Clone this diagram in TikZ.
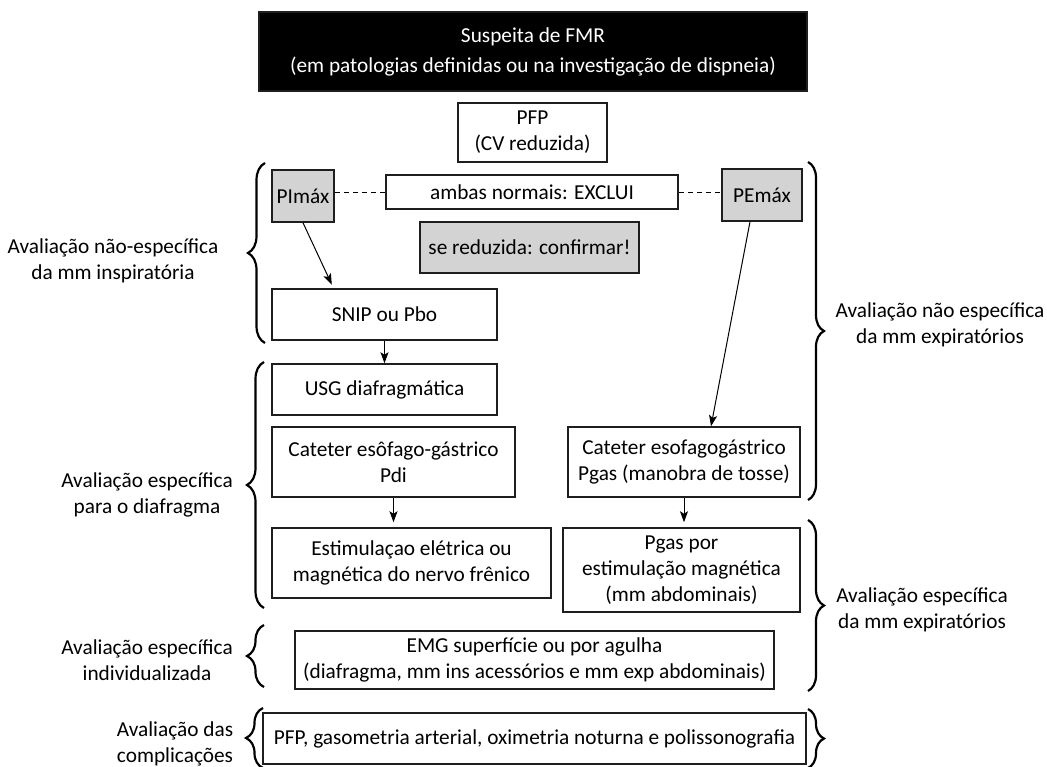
\documentclass[tikz,border=0pt]{standalone}
\usepackage{fontspec}
\setmainfont{Carlito}
\usetikzlibrary{arrows.meta,decorations.pathreplacing,calc}
\definecolor{boxgray}{RGB}{211,211,211}
\definecolor{linegray}{RGB}{30,30,30}
\begin{document}
\begin{tikzpicture}[x=1pt,y=-1pt,
  txt/.style={font=\fontsize{21.3}{26}\selectfont},
  box/.style={draw=linegray, line width=1.5pt, inner sep=0pt, align=center, txt},
  graybox/.style={box, fill=boxgray},
  lbl/.style={align=center, inner sep=0pt, txt},
  arr/.style={-{Stealth[length=11pt,width=8pt,inset=2.5pt]}, line width=1pt},
  dashline/.style={dashed, dash pattern=on 5pt off 4pt, line width=1pt},
  bracel/.style={decorate, decoration={brace, amplitude=17pt}, line width=2.2pt},
  bracer/.style={decorate, decoration={brace, amplitude=16pt}, line width=2.2pt}
]
\useasboundingbox (0,0) rectangle (1047,766);

% boxes
\node[box, fill=black, text=white, minimum width=548pt, minimum height=79pt,
      font=\fontsize{21.3}{30}\selectfont] (top) at (533,51.5)
      {Suspeita de FMR\\(em patologias definidas ou na investigação de dispneia)};
\node[box, minimum width=149pt, minimum height=59pt] (PFP) at (532.5,132.5) {PFP\\(CV reduzida)};
\node[graybox, minimum width=62pt, minimum height=52pt] (PImax) at (303,196) {PImáx};
\node[box, minimum width=292pt, minimum height=34pt] (ambas) at (532,192) {ambas normais: EXCLUI};
\node[graybox, minimum width=80pt, minimum height=52pt] (PEmax) at (762,195) {PEmáx};
\node[graybox, minimum width=219pt, minimum height=51pt] (sered) at (529.5,247.5) {se reduzida: confirmar!};
\node[box, minimum width=225pt, minimum height=51pt] (SNIP) at (384.5,314.5) {SNIP ou Pbo};
\node[box, minimum width=225pt, minimum height=51pt] (USG) at (384.5,389.5) {USG diafragmática};
\node[box, minimum width=243pt, minimum height=70pt] (CatL) at (393.5,462) {Cateter esôfago-gástrico\\Pdi};
\node[box, minimum width=232pt, minimum height=70pt] (CatR) at (684,462) {Cateter esofagogástrico\\Pgas (manobra de tosse)};
\node[box, minimum width=279pt, minimum height=70pt] (Estim) at (411.5,563) {Estimulaçao elétrica ou\\magnética do nervo frênico};
\node[box, minimum width=237pt, minimum height=84pt] (Pgas) at (681.5,570) {Pgas por\\estimulação magnética\\(mm abdominais)};
\node[box, minimum width=479pt, minimum height=58pt] (EMG) at (534.5,660) {EMG superfície ou por agulha\\(diafragma, mm ins acessórios e mm exp abdominais)};
\node[box, minimum width=543pt, minimum height=51pt] (bottom) at (534.5,738.5) {PFP, gasometria arterial, oximetria noturna e polissonografia};

% connectors
\draw[dashline] (PImax.east |- ambas.west) -- (ambas.west);
\draw[dashline] (ambas.east) -- (PEmax.west |- ambas.east);
\draw[arr, shorten >=4pt] (PImax.south) -- ([xshift=-51pt]SNIP.north);
\draw[arr] ([xshift=-12pt]PEmax.south) -- ([xshift=27pt]CatR.north);
\draw[arr] (SNIP.south) -- (USG.north);
\draw[arr, shorten >=5pt] (CatL.south) -- (CatL.south |- Estim.north);
\draw[arr, shorten >=5pt] (CatR.south) -- (CatR.south |- Pgas.north);

% braces
\draw[bracel] (265,343) -- (265,163);
\draw[bracel] (264,608) -- (264,362);
\draw[bracel] (264,687) -- (264,625);
\draw[bracel] (263,768) -- (263,708);
\draw[bracer] (808,162) -- (808,500);
\draw[bracer] (808,520) -- (808,691);
\draw[bracer] (808,709) -- (808,768);

% labels
\node[lbl] (l1) at (113,261) {Avaliação não-específica\\da mm inspiratória};
\node[lbl] (l2) at (147,495) {Avaliação específica\\para o diafragma};
\node[lbl] (l3) at (147,660) {Avaliação específica\\individualizada};
\node[lbl] (l4) at (175,743.5) {Avaliação das\\complicações};
\node[lbl] (r1) at (940,325) {Avaliação não específica\\da mm expiratórios};
\node[lbl] (r2) at (922,610) {Avaliação específica\\da mm expiratórios};
\end{tikzpicture}
\end{document}
